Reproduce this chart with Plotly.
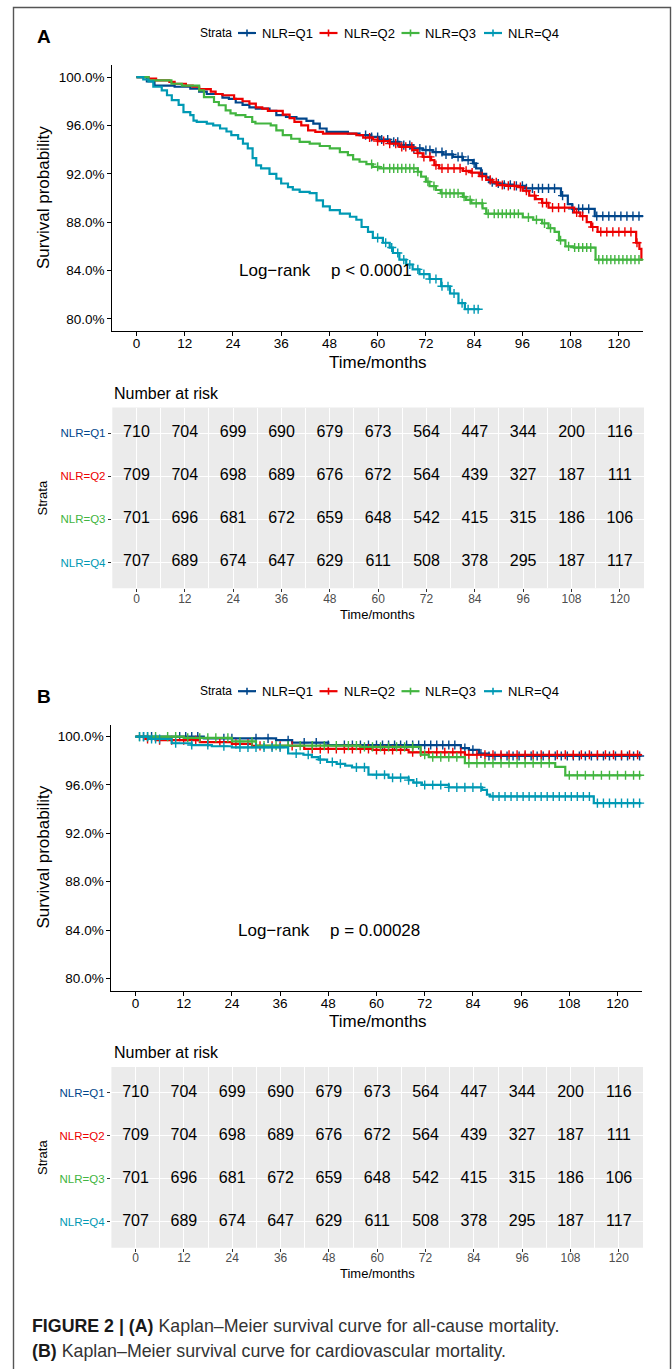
import numpy as np
import plotly.graph_objects as go

W, H = 672, 1369
FONT = "Liberation Sans, Arial, sans-serif"

strata = ["NLR=Q1", "NLR=Q2", "NLR=Q3", "NLR=Q4"]
colors = ["#00468B", "#ED0000", "#42B540", "#0099B4"]

# ---------------- Panel A : all-cause mortality (KM estimates, %) ----------------
A_q1_t = [0, 2.6, 4.5, 9.5, 13.4, 15.6, 17.5, 21.4, 23, 24.7, 26.4, 28.1, 29.7, 33.1, 34.8, 37.2, 39.8, 42.3, 44, 45.6, 47.3, 52.6, 55.5, 58.4, 60.4, 63, 65.4, 68.7, 71.2, 73.7, 76.2, 78.7, 81.2, 83.7, 84.5, 85.7, 87, 87.8, 89, 91.5, 93.9, 96.6, 105.6, 107.3, 108.4, 114, 126]
A_q1_s = [100, 99.65, 99.3, 99.2, 99.04, 98.8, 98.6, 98.3, 98.2, 97.9, 97.7, 97.5, 97.4, 97.2, 96.85, 96.7, 96.57, 96.38, 96.15, 95.75, 95.47, 95.33, 95.2, 95.05, 94.84, 94.64, 94.37, 94.1, 93.96, 93.8, 93.6, 93.4, 93.13, 92.86, 92.45, 92.0, 91.7, 91.3, 91.2, 91.1, 91.0, 90.8, 90.2, 89.5, 89.1, 88.5, 88.5]
A_q2_t = [0, 3, 4.9, 8.2, 9.5, 12.3, 14, 15.6, 18.5, 19.7, 21.4, 24.3, 26.4, 28.1, 29.7, 31.3, 32.7, 36.4, 38.1, 39.3, 41, 42.7, 44.5, 46.4, 54.7, 56.4, 58.8, 60, 63, 65.4, 68.7, 69.9, 71.2, 73.3, 74.1, 75.3, 81.2, 83.3, 85.3, 87, 88.6, 89.8, 91.8, 95, 96.1, 97.7, 99.3, 100.9, 102.5, 108.9, 110.4, 112, 113.1, 114.7, 124.3, 125.1, 125.6, 125.8]
A_q2_s = [100, 99.87, 99.73, 99.6, 99.45, 99.3, 99.2, 99.0, 98.8, 98.6, 98.5, 98.2, 98.0, 97.8, 97.5, 97.4, 97.2, 96.9, 96.6, 96.3, 96.0, 95.6, 95.47, 95.33, 95.2, 95.0, 94.84, 94.7, 94.5, 94.23, 93.96, 93.7, 93.4, 93.13, 92.72, 92.45, 92.25, 92.1, 91.8, 91.5, 91.3, 91.07, 91.0, 90.9, 90.6, 90.2, 89.9, 89.6, 89.2, 88.8, 88.5, 88.0, 87.6, 87.2, 86.3, 85.8, 84.9, 84.9]
A_q3_t = [0, 3, 8.7, 11.3, 15.6, 16.8, 19.3, 20.5, 22.2, 23.4, 24.7, 27.1, 28.8, 29.6, 33.4, 34.8, 36.4, 38.5, 40.6, 43.1, 45.6, 48.1, 50.6, 52.6, 53.9, 55.5, 57.2, 58.8, 60.4, 70, 70.8, 72, 72.9, 74.5, 75.7, 81.2, 82, 83.3, 86.1, 87, 96.1, 98.7, 100.9, 102.5, 104, 105.1, 106.7, 108.8, 114.2, 126]
A_q3_s = [100, 99.73, 99.45, 99.3, 98.9, 98.35, 97.94, 97.67, 97.25, 97.0, 96.85, 96.7, 96.3, 96.16, 96.0, 95.6, 95.2, 94.9, 94.64, 94.5, 94.3, 94.1, 93.8, 93.55, 93.19, 93.0, 92.8, 92.58, 92.45, 92.17, 91.76, 91.35, 90.99, 90.66, 90.38, 90.1, 89.84, 89.56, 89.15, 88.7, 88.4, 88.2, 87.9, 87.5, 87.2, 86.5, 86.0, 85.9, 84.9, 84.9]
A_q4_t = [0, 1.7, 3.0, 4.2, 6.3, 7.6, 8.8, 10.5, 11.7, 13.4, 14.2, 15, 17.5, 19.1, 20.8, 22.4, 23.6, 25.3, 26.5, 27.7, 28.9, 29.8, 31, 33.1, 34.8, 36, 37.7, 38.9, 40.6, 43.1, 44.8, 46.4, 48.1, 50.6, 53.1, 54.7, 56, 57.6, 58.8, 61.3, 63, 63.8, 65.4, 67.1, 68.7, 70.4, 72.9, 75.8, 78, 80.1, 81.7, 85.4]
A_q4_s = [100, 99.8, 99.65, 99.2, 98.9, 98.5, 98.1, 97.7, 97.1, 96.85, 96.4, 96.3, 96.15, 96.0, 95.75, 95.5, 95.2, 94.9, 94.5, 94.1, 93.3, 92.7, 92.45, 92.0, 91.6, 91.2, 90.9, 90.7, 90.5, 90.4, 89.8, 89.3, 89.0, 88.7, 88.45, 88.2, 87.6, 87.2, 86.7, 86.3, 85.9, 85.45, 84.9, 84.5, 84.1, 83.7, 83.3, 82.7, 82.1, 81.3, 80.8, 80.8]

A_q1_cens = [57, 58.5, 60, 61, 62.5, 64, 65, 66.5, 68, 69, 70.5, 72, 73, 74.5, 76, 77, 78.5, 80, 81, 82.5, 84, 86, 88.5, 90, 91.5, 93, 94.5, 96, 97, 98.5, 100, 101, 102.5, 104, 106, 108.5, 110, 111, 112.5, 114.5, 116, 117.5, 119, 120.5, 122, 123.5, 125]
A_q2_cens = [58, 60, 61.5, 63, 64.5, 66, 67, 68.5, 70, 71.5, 73, 74.5, 76, 77.5, 79, 80.5, 82, 83.5, 86, 88, 89.5, 91, 92.5, 94, 95.5, 97, 99, 101, 102, 103.5, 105, 106.5, 109.5, 111, 113.5, 115.5, 117, 118.5, 120, 121.5, 123, 124.5]
A_q3_cens = [58.5, 60, 61.5, 63, 64, 65, 66, 67, 68, 69, 70, 72.5, 74, 76, 77, 78, 79, 80, 81.5, 83, 84.5, 86, 87.5, 89, 90, 91, 92, 93, 94, 95, 97.5, 99.5, 101.5, 103, 105.5, 107.5, 109, 110, 111, 112, 113, 115, 116, 117, 118, 119, 120, 121, 122, 123, 124, 125]
A_q4_cens = [60, 62, 63.5, 65, 66.5, 68, 70, 71.5, 73, 74.5, 76, 77.5, 79, 81, 82.5, 84, 85]

# ---------------- Panel B : cardiovascular mortality ----------------
B_q1_t = [0, 17, 35, 39, 48, 81, 83, 85.5, 88, 126]
B_q1_s = [100, 99.85, 99.7, 99.5, 99.3, 99.05, 98.9, 98.6, 98.4, 98.4]
B_q2_t = [0, 2.6, 5, 16, 24, 29, 42, 59, 68, 82, 126]
B_q2_s = [100, 99.8, 99.7, 99.54, 99.4, 99.23, 98.98, 98.9, 98.7, 98.5, 98.5]
B_q3_t = [0, 12, 24, 30, 56, 71, 73, 82, 104.5, 107, 126]
B_q3_s = [100, 99.9, 99.6, 99.25, 99.15, 98.5, 98.3, 97.8, 97.5, 96.8, 96.8]
B_q4_t = [0, 3.2, 9, 14, 19, 24, 38, 41.8, 43.9, 45.6, 47.7, 50.1, 52.2, 53.9, 58, 63, 68, 69.2, 71.3, 78, 86.3, 87.5, 88.3, 114.1, 126]
B_q4_s = [100, 99.8, 99.45, 99.3, 99.2, 99.1, 98.6, 98.5, 98.3, 98.1, 97.9, 97.75, 97.6, 97.45, 96.85, 96.6, 96.4, 96.2, 96.0, 95.8, 95.6, 95.2, 95.05, 94.5, 94.5]

B_q1_cens = [2, 4, 11, 12.5, 14, 15.5, 22, 24, 30, 33, 38, 42, 45, 48, 52, 54, 56, 58, 60, 61.5, 63, 64.5, 66, 67.5, 69, 70.5, 72, 73.5, 75, 76.5, 78, 79.5, 82, 84, 86, 88, 89.5, 91, 92.5, 94, 95.5, 97, 98.5, 100, 101.5, 103, 104.5, 106, 107.5, 109, 110.5, 112, 113.5, 115, 116.5, 118, 119.5, 121, 122.5, 124, 125.5]
B_q2_cens = [3, 6, 9, 12, 15, 18, 21, 25, 28, 31, 34, 36, 39, 44, 46, 48, 50, 52, 54, 56, 58, 60, 62, 64, 66, 69, 71, 73, 75, 77, 79, 81, 83, 85, 87, 89, 91, 93, 95, 97, 99, 101, 103, 105, 107, 109, 111, 113, 115, 117, 119, 121, 123, 125]
B_q3_cens = [1, 3, 5, 8, 10, 13, 16, 18, 20, 23, 26, 29, 32, 35, 38, 41, 44, 47, 50, 53, 55, 57, 59, 61, 63, 65, 67, 69, 72, 74, 76, 78, 80, 83, 85, 87, 89, 91, 93, 95, 97, 99, 101, 103, 108, 110, 112, 114, 116, 118, 120, 122, 124, 125.5]
B_q4_cens = [1, 2, 3, 4, 5, 6, 10, 14, 18, 22, 26, 28, 30, 32, 34, 36, 40, 43, 46, 49, 51, 55, 57, 60, 62, 64, 66, 68, 70, 72, 74, 76, 78, 80, 82, 84, 86, 89, 90.5, 92, 93.5, 95, 96.5, 98, 99.5, 101, 102.5, 104, 105.5, 107, 108.5, 110, 111.5, 113, 115, 116.5, 118, 119.5, 121, 122.5, 124, 125.5]

# ---------------- Number at risk (same table in both panels) ----------------
risk_times = [0, 12, 24, 36, 48, 60, 72, 84, 96, 108, 120]
risk_q1 = [710, 704, 699, 690, 679, 673, 564, 447, 344, 200, 116]
risk_q2 = [709, 704, 698, 689, 676, 672, 564, 439, 327, 187, 111]
risk_q3 = [701, 696, 681, 672, 659, 648, 542, 415, 315, 186, 106]
risk_q4 = [707, 689, 674, 647, 629, 611, 508, 378, 295, 187, 117]

y_ticks = [80, 84, 88, 92, 96, 100]
y_ticktext = ["80.0%", "84.0%", "88.0%", "92.0%", "96.0%", "100.0%"]
x_ticks = [0, 12, 24, 36, 48, 60, 72, 84, 96, 108, 120]
x_minor = [6, 18, 30, 42, 54, 66, 78, 90, 102, 114]

panels = [
    dict(label="A", curves=[(A_q1_t, A_q1_s, A_q1_cens), (A_q2_t, A_q2_s, A_q2_cens),
                            (A_q3_t, A_q3_s, A_q3_cens), (A_q4_t, A_q4_s, A_q4_cens)],
         pval="p < 0.0001"),
    dict(label="B", curves=[(B_q1_t, B_q1_s, B_q1_cens), (B_q2_t, B_q2_s, B_q2_cens),
                            (B_q3_t, B_q3_s, B_q3_cens), (B_q4_t, B_q4_s, B_q4_cens)],
         pval="p = 0.00028"),
]
risk_rows = [risk_q1, risk_q2, risk_q3, risk_q4]
row_pos = [4, 3, 2, 1]

# ---------------- geometry (pixels) ----------------
def fx(x):
    return x / W

def fy(y):
    return 1 - y / H

OFF = 659.5
geo = [
    dict(km_x=(112.3, 643.0), km_y=(65.0, 331.0), tb_x=(112.3, 644.0), tb_y=(407.5, 588.3), dy=0),
    dict(km_x=(111.4, 641.6), km_y=(65.0 + OFF, 331.0 + OFF), tb_x=(111.4, 643.0), tb_y=(407.5 + OFF, 588.3 + OFF), dy=OFF),
]

fig = go.Figure()
layout = dict(width=W, height=H, margin=dict(l=0, r=0, t=0, b=0),
              paper_bgcolor="white", plot_bgcolor="white", showlegend=False,
              font=dict(family=FONT, color="black"))
annotations = []
shapes = []


def note(x, y, text, size, color="black", xa="center", ya="middle", angle=0, xref="paper", yref="paper"):
    annotations.append(dict(x=x, y=y, xref=xref, yref=yref, text=text, showarrow=False,
                            xanchor=xa, yanchor=ya, textangle=angle,
                            font=dict(size=size, color=color, family=FONT)))


def step_at(times, surv, t):
    i = np.searchsorted(np.array(times), t, side="right") - 1
    return np.array(surv)[i]


for p, (panel, g) in enumerate(zip(panels, geo)):
    kx = "x" if p == 0 else "x3"
    ky = "y" if p == 0 else "y3"
    tx = "x2" if p == 0 else "x4"
    ty = "y2" if p == 0 else "y4"
    kxn = "xaxis" if p == 0 else "xaxis3"
    kyn = "yaxis" if p == 0 else "yaxis3"
    txn = "xaxis2" if p == 0 else "xaxis4"
    tyn = "yaxis2" if p == 0 else "yaxis4"
    dy = g["dy"]

    # KM curves with censor marks
    for k, (t, s, c) in enumerate(panel["curves"]):
        fig.add_trace(go.Scatter(x=t, y=s, mode="lines", line=dict(color=colors[k], width=2.2, shape="hv"),
                                 xaxis=kx, yaxis=ky, hoverinfo="skip"))
        cy = [step_at(t, s, ct) for ct in c]
        fig.add_trace(go.Scatter(x=c, y=cy, mode="markers",
                                 marker=dict(symbol="cross-thin", size=6.5, color=colors[k],
                                             line=dict(width=1.4, color=colors[k])),
                                 xaxis=kx, yaxis=ky, hoverinfo="skip", cliponaxis=False))

    layout[kxn] = dict(domain=[fx(g["km_x"][0]), fx(g["km_x"][1])], range=[-6, 126], anchor=ky,
                       tickmode="array", tickvals=x_ticks, showline=True, linecolor="black", linewidth=1.1,
                       ticks="outside", ticklen=4, tickcolor="black", showgrid=False, zeroline=False,
                       ticklabelstandoff=-4, tickfont=dict(size=13.5, color="black"))
    layout[kyn] = dict(domain=[fy(g["km_y"][1]), fy(g["km_y"][0])], range=[79, 101], anchor=kx,
                       tickmode="array", tickvals=y_ticks, ticktext=y_ticktext, showline=True,
                       linecolor="black", linewidth=1.1, ticks="outside", ticklen=4, tickcolor="black",
                       showgrid=False, zeroline=False, tickfont=dict(size=13.5, color="black"))

    # log-rank text
    note(25.0, 84, "Log\u2212rank", 17, xa="left", xref=kx, yref=ky)
    note(48.0, 84, panel["pval"], 17, xa="left", xref=kx, yref=ky)

    # axis titles and panel letter
    note(fx(43), fy(198 + dy), "Survival probability", 17, angle=-90)
    note(fx(378), fy(362.5 + dy), "Time/months", 17)
    note(fx(35), fy(37 + dy), "<b>%s</b>" % panel["label"], 19, xa="left")

    # legend (drawn manually)
    ly = 33 + dy - (1.3 if p == 1 else 0)
    note(fx(198), fy(ly), "Strata", 12, xa="left")
    for k, (gx, lx) in enumerate(zip([247, 328.5, 410.5, 493], [260, 342, 423, 506])):
        shapes.append(dict(type="line", xref="paper", yref="paper", x0=fx(gx - 9), x1=fx(gx + 9),
                           y0=fy(ly), y1=fy(ly), line=dict(color=colors[k], width=2.2)))
        shapes.append(dict(type="line", xref="paper", yref="paper", x0=fx(gx), x1=fx(gx),
                           y0=fy(ly - 3.5), y1=fy(ly + 3.5), line=dict(color=colors[k], width=1.6)))
        note(fx(lx), fy(ly), strata[k], 13, xa="left")

    # risk table
    for k, row in enumerate(risk_rows):
        fig.add_trace(go.Scatter(x=risk_times, y=[row_pos[k]] * len(risk_times), mode="text",
                                 text=[str(v) for v in row], textposition="middle center",
                                 textfont=dict(size=16, color="black"), xaxis=tx, yaxis=ty,
                                 hoverinfo="skip", cliponaxis=False))
    layout[txn] = dict(domain=[fx(g["tb_x"][0]), fx(g["tb_x"][1])], range=[-6, 126], anchor=ty,
                       tickmode="array", tickvals=x_ticks, showline=False, ticks="outside", ticklen=3,
                       tickcolor="#333333", tickwidth=1, showgrid=True, gridcolor="white", gridwidth=1.3,
                       zeroline=False, ticklabelstandoff=-4, tickfont=dict(size=12, color="#4D4D4D"),
                       minor=dict(tickvals=x_minor, showgrid=True, gridcolor="white", gridwidth=0.7, ticks=""))
    layout[tyn] = dict(domain=[fy(g["tb_y"][1]), fy(g["tb_y"][0])], range=[0.4, 4.6], anchor=tx,
                       tickmode="array", tickvals=row_pos,
                       ticktext=['<span style="color:%s">%s</span>' % (colors[k], strata[k]) for k in range(4)],
                       ticks="outside", ticklen=3.5, tickcolor="#333333", tickwidth=1, showline=False,
                       showgrid=True, gridcolor="white", gridwidth=1.3, zeroline=False,
                       tickfont=dict(size=11.5))
    shapes.append(dict(type="rect", xref="%s domain" % tx, yref="%s domain" % ty, x0=0, x1=1, y0=0, y1=1,
                       fillcolor="#EBEBEB", line=dict(width=0), layer="below"))
    note(fx(112), fy(393 + dy), "Number at risk", 16, xa="left")
    note(fx(42.5), fy(498 + dy), "Strata", 13, angle=-90)
    note(fx(377), fy(614 + dy), "Time/months", 13)

# caption
note(fx(30), fy(1326), '<b>FIGURE 2 | (A)</b> <span style="color:#333333">Kaplan\u2013Meier survival curve for all-cause mortality.</span>',
     17.8, color="#1a1a1a", xa="left")
note(fx(30), fy(1350.5), '<b>(B)</b> <span style="color:#333333">Kaplan\u2013Meier survival curve for cardiovascular mortality.</span>',
     17.8, color="#1a1a1a", xa="left")

# outer frame
shapes.append(dict(type="rect", xref="paper", yref="paper", x0=fx(13.5), x1=fx(670.5), y0=-0.02, y1=fy(7.5),
                   line=dict(color="#555555", width=1.4), fillcolor="rgba(0,0,0,0)", layer="below"))

layout["annotations"] = annotations
layout["shapes"] = shapes
fig.update_layout(**layout)
fig.write_html("out.html", config={"displayModeBar": False},
               post_script="document.body.style.margin='0';document.body.style.overflow='hidden';")
